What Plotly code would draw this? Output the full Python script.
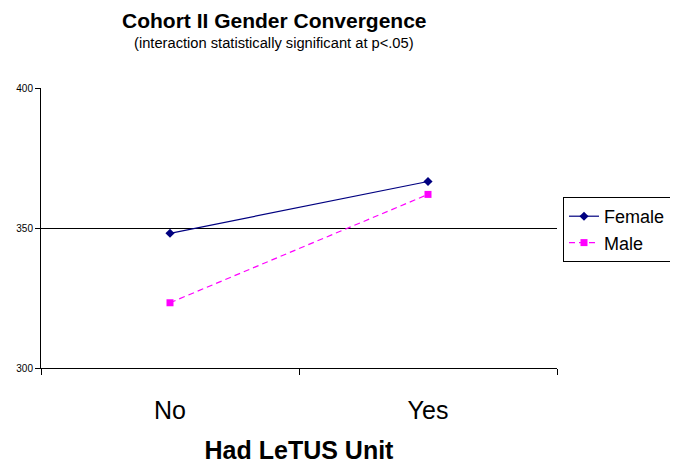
import plotly.graph_objects as go

categories = ["No", "Yes"]
female = [348.1, 366.6]
male = [323.3, 362.0]
y_ticks = [300, 350, 400]

fig = go.Figure()
fig.add_trace(go.Scatter(x=categories, y=female, name="Female", mode="lines+markers",
                         line=dict(color="#000080", width=1.2),
                         marker=dict(symbol="diamond", size=7, color="#000080")))
fig.add_trace(go.Scatter(x=categories, y=male, name="Male", mode="lines+markers",
                         line=dict(color="#FF00FF", width=1.2, dash="6px,4px"),
                         marker=dict(symbol="square", size=7, color="#FF00FF")))

W, H = 678, 466
OFF = 8  # page body margin offset
L, R, T, B = 41 - OFF, 557 - OFF, 88 - OFF, 368 - OFF
def px(x): return (x - OFF - L) / (R - L)
def py(y): return (B - (y - OFF)) / (B - T)

fig.update_layout(
    width=W, height=H,
    margin=dict(l=L, r=W - R, t=T, b=H - B),
    paper_bgcolor="white", plot_bgcolor="white",
    font=dict(family="Liberation Sans, Arial, sans-serif", color="black"),
    showlegend=True,
    legend=dict(x=px(563), y=py(197), xanchor="left", yanchor="top",
                bordercolor="black", borderwidth=1, bgcolor="white",
                font=dict(size=18), tracegroupgap=0, itemwidth=30),
    xaxis=dict(type="category", range=[-0.5, 1.5], tickson="boundaries",
               ticks="outside", ticklen=6, tickcolor="black", tickwidth=1,
               showline=True, linecolor="black", linewidth=1,
               showgrid=False, tickfont=dict(size=25),
               ticklabelstandoff=20, automargin=False,
               title=dict(text="<b>Had LeTUS Unit</b>", font=dict(size=25), standoff=18)),
    yaxis=dict(range=[300, 400], tickvals=y_ticks, ticks="outside", ticklen=5,
               tickcolor="black", showline=True, linecolor="black", linewidth=1,
               showgrid=True, gridcolor="black", gridwidth=1, zeroline=False,
               tickfont=dict(size=10), automargin=False),
    annotations=[
        dict(text="<b>Cohort II Gender Convergence</b>", x=px(274), y=py(20),
             xref="paper", yref="paper", showarrow=False, font=dict(size=21),
             xanchor="center", yanchor="middle"),
        dict(text="(interaction statistically significant at p<.05)", x=px(274), y=py(43),
             xref="paper", yref="paper", showarrow=False, font=dict(size=14.7),
             xanchor="center", yanchor="middle"),
    ],
)

fig.write_html("out.html")
